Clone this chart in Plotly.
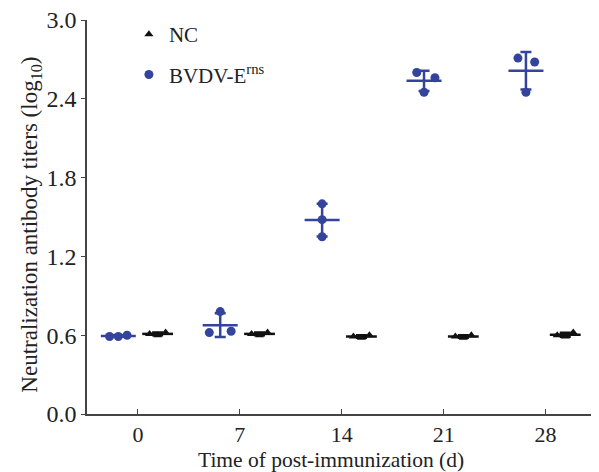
import numpy as np
import plotly.graph_objects as go

days = [0, 7, 14, 21, 28]
tick_labels = ["0", "7", "14", "21", "28"]
bvdv_values = [
    [0.59, 0.59, 0.60],
    [0.78, 0.62, 0.63],
    [1.60, 1.48, 1.35],
    [2.60, 2.56, 2.45],
    [2.71, 2.68, 2.45],
]
nc_values = [
    [0.61, 0.60, 0.62],
    [0.61, 0.60, 0.62],
    [0.59, 0.58, 0.60],
    [0.59, 0.58, 0.60],
    [0.60, 0.59, 0.62],
]

BLUE = "#34449c"
BLACK = "#111111"
AXIS = "#444444"
TEXT = "#222222"
SERIF = "Liberation Serif, Times New Roman, serif"

# horizontal spread of the dots within each group (in days)
bvdv_jitter = [[-0.6, 0.0, 0.6], [0.0, -0.75, 0.75], [0.0, 0.0, 0.0],
               [-0.5, 0.75, 0.0], [-0.55, 0.6, 0.0]]
nc_jitter = [[-0.55, 0.0, 0.55]] * 5
OFF = 1.35

fig = go.Figure()

def add_series(values, jitter, offset, color, symbol, msize, name, meanw):
    xs, ys = [], []
    for d, vals, jit in zip(days, values, jitter):
        for v, j in zip(vals, jit):
            xs.append(d + offset + j)
            ys.append(v)
    means = [float(np.mean(v)) for v in values]
    sds = [float(np.std(v, ddof=1)) for v in values]
    xm = [d + offset for d in days]
    fig.add_trace(go.Scatter(
        x=xm, y=means, mode="markers", showlegend=False, hoverinfo="skip",
        marker=dict(symbol="line-ew", size=meanw, color=color,
                    line=dict(color=color, width=2.5)),
        error_y=dict(type="data", array=sds, visible=True, color=color,
                     thickness=2.5, width=5.5),
    ))
    fig.add_trace(go.Scatter(
        x=xs, y=ys, mode="markers", name=name, legendgroup=name,
        marker=dict(symbol=symbol, size=msize, color=color),
    ))

add_series(nc_values, nc_jitter, OFF, BLACK, "triangle-up", 8, "NC", 22)
add_series(bvdv_values, bvdv_jitter, -OFF, BLUE, "circle", 9, "BVDV-E<sup>rns</sup>", 25)

# page has an 8px body margin, so the figure is 8px smaller on each axis
fig.update_layout(
    width=591, height=464,
    margin=dict(l=79, r=1, t=12, b=58),
    paper_bgcolor="white", plot_bgcolor="white",
    font=dict(family=SERIF, size=22, color=TEXT),
    legend=dict(x=0.082, y=1.015, xanchor="left", yanchor="top",
                font=dict(family=SERIF, size=21, color=TEXT),
                tracegroupgap=10, bgcolor="rgba(0,0,0,0)", itemwidth=30),
    xaxis=dict(
        range=[-3.5, 31.6], tickmode="array", tickvals=days, ticktext=tick_labels,
        ticks="inside", ticklen=5, tickwidth=1.2, tickcolor=AXIS,
        showline=True, linecolor=AXIS, linewidth=1.5, showgrid=False, zeroline=False,
        automargin=False, ticklabelstandoff=0, ticklabeloverflow="allow",
        tickfont=dict(family=SERIF, size=22, color=TEXT),
    ),
    yaxis=dict(
        range=[0, 3.0], tickmode="array", tickvals=[0, 0.6, 1.2, 1.8, 2.4, 3.0],
        ticktext=["0.0", "0.6", "1.2", "1.8", "2.4", "3.0"],
        ticks="outside", ticklen=4, tickwidth=1.2, tickcolor=AXIS,
        showline=True, linecolor=AXIS, linewidth=1.5, showgrid=False, zeroline=False,
        automargin=False, ticklabeloverflow="allow",
        tickfont=dict(family=SERIF, size=24, color=TEXT),
    ),
    annotations=[
        dict(text="Neutralization antibody titers (log<sub>10</sub>)",
             xref="paper", yref="paper", x=-0.11, y=0.48, textangle=-90,
             xanchor="center", yanchor="middle", showarrow=False,
             font=dict(family=SERIF, size=23, color=TEXT)),
        dict(text="Time of post-immunization (d)",
             xref="paper", yref="paper", x=0.477, y=-0.116,
             xanchor="center", yanchor="middle", showarrow=False,
             font=dict(family=SERIF, size=21.5, color=TEXT)),
    ],
)

fig.write_html("out.html")
